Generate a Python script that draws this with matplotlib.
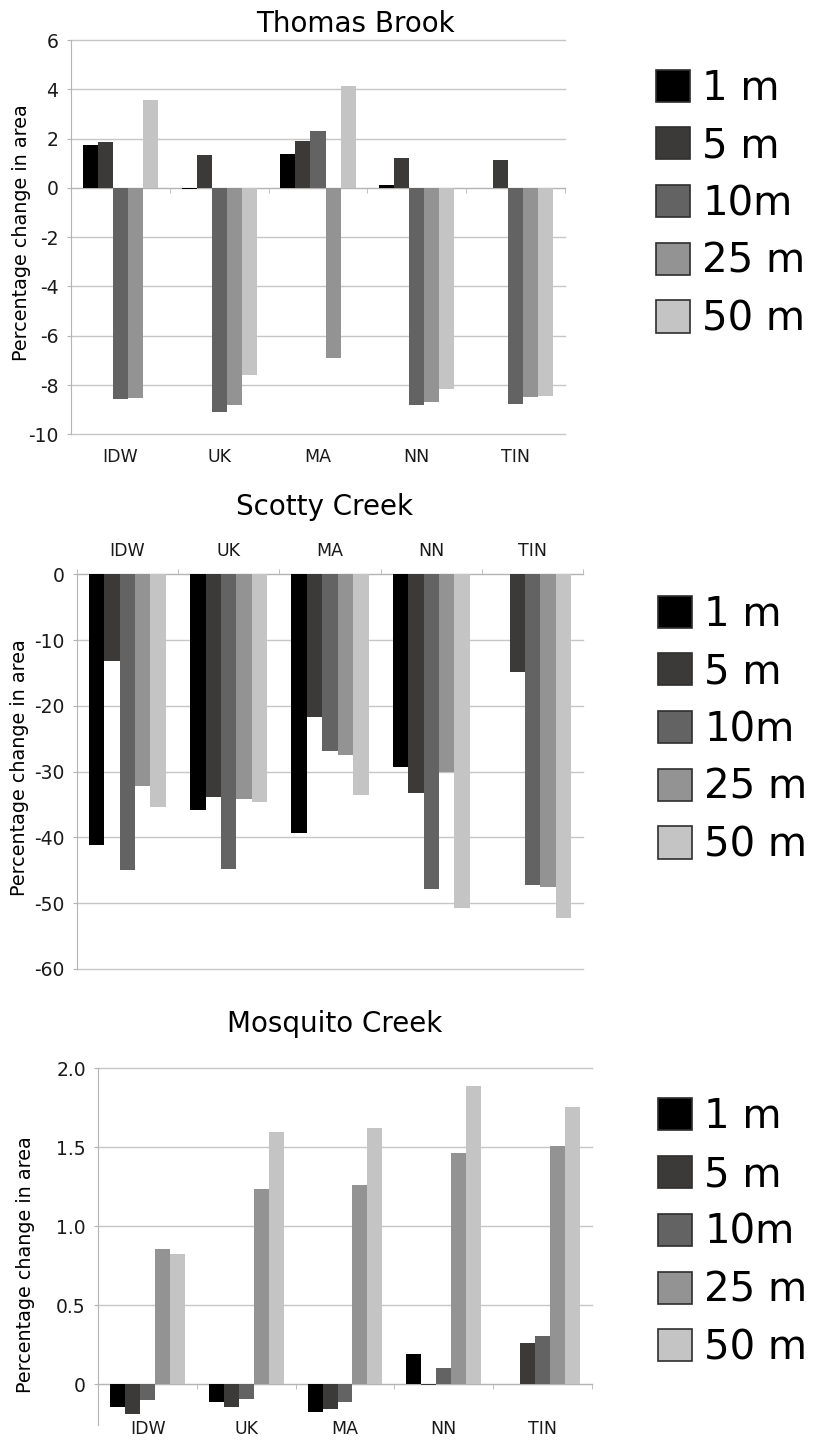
import matplotlib
matplotlib.use("Agg")
import matplotlib.pyplot as plt
import numpy as np
from matplotlib.patches import Patch

plt.rcParams["font.family"] = "DejaVu Sans"
plt.rcParams["axes.unicode_minus"] = False

categories = ["IDW", "UK", "MA", "NN", "TIN"]
resolutions = ["1 m", "5 m", "10m", "25 m", "50 m"]
bar_colors = ["#000000", "#3b3a39", "#636363", "#939393", "#c4c4c4"]

# rows: 1 m, 5 m, 10 m, 25 m, 50 m; columns follow `categories`
thomas_brook = [
    [1.73, -0.03, 1.39, 0.11, 0.0],
    [1.86, 1.32, 1.92, 1.21, 1.12],
    [-8.57, -9.10, 2.30, -8.81, -8.76],
    [-8.53, -8.80, -6.91, -8.68, -8.50],
    [3.58, -7.61, 4.15, -8.17, -8.46],
]
scotty_creek = [
    [-41.2, -35.8, -39.4, -29.3, 0.0],
    [-13.2, -33.9, -21.7, -33.2, -14.8],
    [-45.0, -44.8, -26.9, -47.8, -47.2],
    [-32.2, -34.1, -27.5, -30.0, -47.6],
    [-35.3, -34.6, -33.6, -50.7, -52.3],
]
mosquito_creek = [
    [-0.146, -0.112, -0.175, 0.192, 0.0],
    [-0.188, -0.141, -0.158, -0.005, 0.263],
    [-0.099, -0.091, -0.112, 0.103, 0.306],
    [0.858, 1.234, 1.261, 1.462, 1.506],
    [0.825, 1.599, 1.622, 1.890, 1.755],
]

thomas_ticks = [6, 4, 2, 0, -2, -4, -6, -8, -10]
scotty_ticks = [0, -10, -20, -30, -40, -50, -60]
mosquito_ticks = [2.0, 1.5, 1.0, 0.5, 0.0]
mosquito_ticklabels = ["2.0", "1.5", "1.0", "0.5", "0"]

GRID = "#c6c6c6"
SPINE = "#b4b4b4"
W, H = 813, 1440
BAR_W = 0.152


def px_box(x0, x1, y0, y1):
    """Axes rect from pixel edges (y measured from top)."""
    return [x0 / W, 1 - y1 / H, (x1 - x0) / W, (y1 - y0) / H]


def draw_bars(ax, values):
    x = np.arange(len(categories))
    for j, (row, color) in enumerate(zip(values, bar_colors)):
        ax.bar(x + (j - 2) * BAR_W, row, BAR_W, color=color, linewidth=0, zorder=3)
    ax.set_xlim(-0.5, len(categories) - 0.5)


def style_common(ax, yticks, yticklabels=None):
    ax.set_yticks(yticks)
    if yticklabels is not None:
        ax.set_yticklabels(yticklabels)
    ax.yaxis.grid(True, color=GRID, lw=1.0, zorder=0)
    for line in ax.get_ygridlines():
        line.set_clip_on(False)
    ax.set_axisbelow(True)
    ax.spines["right"].set_visible(False)
    ax.spines["left"].set_color(SPINE)
    ax.tick_params(axis="y", labelsize=13.5, length=3, color=SPINE, pad=6,
                   labelcolor="#1a1a1a")
    ax.set_xticks([])
    ax.set_xticks(np.arange(len(categories) + 1) - 0.5, minor=True)
    ax.tick_params(axis="x", which="minor", length=3.5, color=SPINE)


def add_legend(ax, fig, left_px, center_px):
    handles = [Patch(facecolor=c, edgecolor="#2e2e2e", lw=1.2) for c in bar_colors]
    ax.legend(handles, resolutions, loc="center left",
              bbox_to_anchor=(left_px / W, 1 - center_px / H),
              bbox_transform=fig.transFigure, frameon=False, fontsize=29,
              handlelength=0.85, handleheight=0.85, handletextpad=0.3,
              labelspacing=0.44, borderpad=0, borderaxespad=0)


def bottom_labels(ax, pad):
    sec = ax.secondary_xaxis("bottom")
    sec.set_xticks(np.arange(len(categories)), categories)
    sec.tick_params(length=0, pad=pad, labelsize=12.5, labelcolor="#1a1a1a")
    sec.spines["bottom"].set_visible(False)


fig = plt.figure(figsize=(W / 100, H / 100), dpi=100)

# Thomas Brook
ax1 = fig.add_axes(px_box(71, 565, 40, 434.3))
draw_bars(ax1, thomas_brook)
ax1.set_ylim(-10, 6)
style_common(ax1, thomas_ticks)
ax1.spines["top"].set_visible(False)
ax1.spines["bottom"].set_position(("data", 0))
ax1.spines["bottom"].set_color(SPINE)
bottom_labels(ax1, 10)
ax1.set_ylabel("Percentage change in area", fontsize=13.8)
ax1.yaxis.set_label_coords((31 - 71) / 494, 0.512)
fig.text(355 / W, 1 - 31.7 / H, "Thomas Brook", ha="center", va="baseline", fontsize=20)
add_legend(ax1, fig, 656, 204)

# Scotty Creek
ax2 = fig.add_axes(px_box(76.7, 583.3, 574.3, 969))
draw_bars(ax2, scotty_creek)
ax2.set_ylim(-60, 0)
style_common(ax2, scotty_ticks)
ax2.spines["bottom"].set_visible(False)
ax2.spines["top"].set_color(SPINE)
ax2.xaxis.set_ticks_position("top")
ax2.set_xticks(np.arange(len(categories)), categories)
ax2.tick_params(axis="x", which="major", length=0, pad=10, labelsize=12.5,
                labelcolor="#1a1a1a")
ax2.tick_params(axis="x", which="minor", top=True, bottom=False)
ax2.set_ylabel("Percentage change in area", fontsize=13.8)
ax2.yaxis.set_label_coords((29 - 76.7) / 506.6, 0.509)
fig.text(324 / W, 1 - 515 / H, "Scotty Creek", ha="center", va="baseline", fontsize=20)
add_legend(ax2, fig, 658, 730)

# Mosquito Creek
ax3 = fig.add_axes(px_box(98.3, 591.7, 1068.3, 1425))
draw_bars(ax3, mosquito_creek)
ax3.set_ylim(-0.2576, 2.0)
style_common(ax3, mosquito_ticks, mosquito_ticklabels)
ax3.spines["top"].set_visible(False)
ax3.spines["bottom"].set_position(("data", 0))
ax3.spines["bottom"].set_color(SPINE)
bottom_labels(ax3, -3.5)
ax3.set_ylabel("Percentage change in area", fontsize=13.8)
ax3.yaxis.set_label_coords((35 - 98.3) / 493.4, 0.4486)
fig.text(335 / W, 1 - 1031.7 / H, "Mosquito Creek", ha="center", va="baseline", fontsize=20)
add_legend(ax3, fig, 658, 1232.8)

fig.savefig("out.png", dpi=100)
